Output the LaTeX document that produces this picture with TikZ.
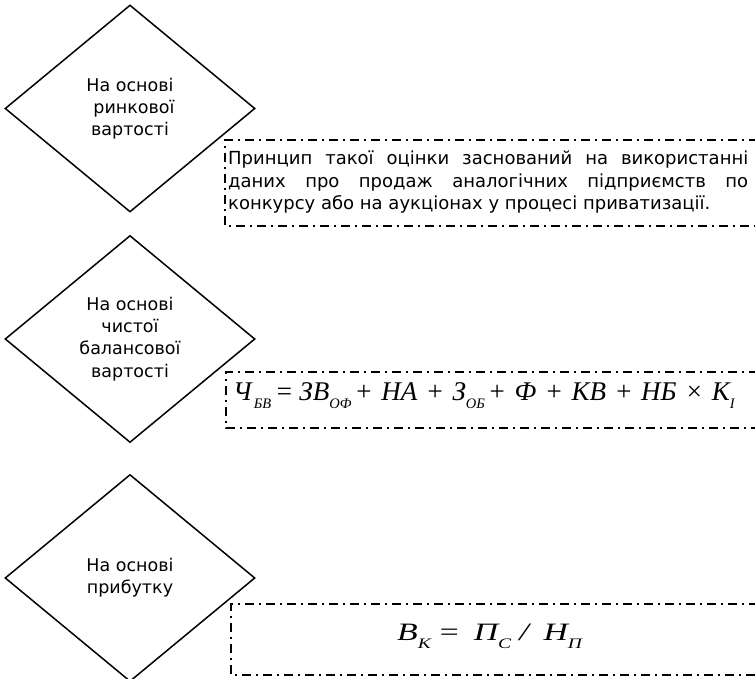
\documentclass[tikz,border=0pt]{standalone}
\usepackage{fontspec}
\setmainfont{DejaVu Sans}
\newfontfamily\formfont{Liberation Serif}
\usetikzlibrary{shapes.geometric}
\newcommand\mysub[1]{\raisebox{-0.32em}{\fontsize{14.5}{14.5}\selectfont #1}}
\newcommand\fsp{\hspace{8.5pt}}
\tikzset{
  choice/.style={draw=black, line width=1.5pt, diamond, inner sep=0pt,
    minimum width=250pt, minimum height=207pt, align=center,
    font=\fontsize{17.5}{22.3}\selectfont},
  dashdot/.style={draw=black, line width=1.4pt,
    dash pattern=on 9pt off 5pt on 2pt off 5pt},
  desc/.style={inner sep=0pt, anchor=base west, font=\fontsize{18}{22}\selectfont},
  formula/.style={inner sep=0pt, anchor=base west}
}
\begin{document}
\begin{tikzpicture}[x=1pt,y=-1pt]
\useasboundingbox (0,0) rectangle (755,679);
\clip (0,0) rectangle (755,679);
% diamonds
\node[choice] (d1) at (130,108.5) {На основі\\\hspace*{8pt}ринкової\\вартості};
\node[choice] (d2) at (130,339) {На основі\\чистої\\балансової\\вартості};
\node[choice] (d3) at (130,578) {На основі\\прибутку};
% box 1
\draw[dashdot] (800,140) -- (225,140) -- (225,226) -- (800,226);
\node[desc] (t1a) at (228,165) {\makebox[520pt][s]{Принцип такої оцінки заснований на використанні}};
\node[desc] (t1b) at (228,187.5) {\makebox[520pt][s]{даних про продаж аналогічних підприємств по}};
\node[desc] (t1c) at (228,210) {конкурсу або на аукціонах у процесі приватизації.};
% box 2
\draw[dashdot] (800,372) -- (226,372) -- (226,428) -- (800,428);
\node[formula, font=\formfont\itshape\fontsize{27}{30}\selectfont] (f2) at (233,400)
  {Ч\hspace{2pt}\mysub{БВ}\hspace{4pt}=\hspace{6pt}ЗВ\mysub{ОФ}\hspace{3pt}+\fsp НА\fsp +\fsp З\mysub{ОБ}\hspace{3pt}+\fsp Ф\fsp +\fsp КВ\fsp +\fsp НБ\fsp ×\fsp К\mysub{I}};
% box 3
\draw[dashdot] (800,604) -- (231,604) -- (231,675) -- (800,675);
\node[formula, font=\formfont\itshape\fontsize{25}{30}\selectfont] (f3) at (397,640)
  {\scalebox{1.35}[1]{В\mysub{К}\hspace{5pt}=\hspace{10pt}П\mysub{С}\hspace{6pt}/\hspace{11pt}Н\mysub{П}}};
\end{tikzpicture}
\end{document}
